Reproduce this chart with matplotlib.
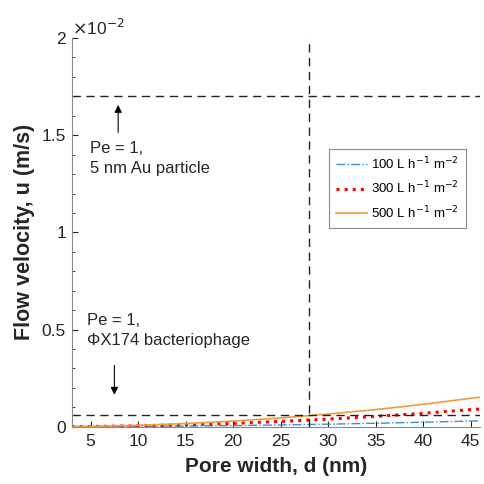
import matplotlib
matplotlib.use('Agg')
import matplotlib.pyplot as plt

plt.rcParams['font.family'] = ['Liberation Sans', 'DejaVu Sans']

# pore width (nm) and flow velocity (units of 1e-2 m/s)
pore_width = [3, 5, 10, 15, 20, 25, 30, 35, 40, 45, 46]
u_100 = [0.00013, 0.00036, 0.0014, 0.0032, 0.0058, 0.009, 0.013, 0.0176, 0.023, 0.029, 0.0305]
u_300 = [0.0004, 0.0011, 0.0043, 0.0097, 0.0173, 0.027, 0.039, 0.053, 0.069, 0.088, 0.091]
u_500 = [0.00065, 0.0018, 0.0072, 0.0162, 0.029, 0.045, 0.065, 0.088, 0.115, 0.146, 0.152]
labels = ['100 L h$^{-1}$ m$^{-2}$', '300 L h$^{-1}$ m$^{-2}$', '500 L h$^{-1}$ m$^{-2}$']

pe_au = 1.7
pe_phage = 0.06
d_cross = 28

fig = plt.figure(figsize=(4.84, 4.84), dpi=100)
ax = fig.add_axes([0.148, 0.1184, 0.844, 0.803])

ax.plot(pore_width, u_100, '-.', color='#3b8fd4', lw=1.0, label=labels[0])
ax.plot(pore_width, u_300, ':', color='#ff0000', lw=2.2, label=labels[1])
ax.plot(pore_width, u_500, '-', color='#ee9b3a', lw=1.2, label=labels[2])

ax.axhline(pe_au, color='#222222', ls=(0, (6, 4)), lw=1.0)
ax.axhline(pe_phage, color='#222222', ls=(0, (6, 4)), lw=1.0)
ax.axvline(d_cross, color='#222222', ls=(0, (6, 4)), lw=1.0)

ax.annotate('', xy=(7.9, 1.67), xytext=(7.9, 1.50),
            arrowprops=dict(arrowstyle='-|>', color='black', lw=0.8, mutation_scale=11))
ax.text(4.9, 1.47, 'Pe = 1,\n5 nm Au particle', fontsize=12, va='top', linespacing=1.45,
        color='#262626')
ax.annotate('', xy=(7.5, 0.15), xytext=(7.5, 0.33),
            arrowprops=dict(arrowstyle='-|>', color='black', lw=0.8, mutation_scale=11))
ax.text(4.6, 0.585, 'Pe = 1,\n\u03a6X174 bacteriophage', fontsize=12, va='top', linespacing=1.45,
        color='#262626')

ax.set_xlim(3, 46)
ax.set_ylim(0, 2)
ax.set_xticks([5, 10, 15, 20, 25, 30, 35, 40, 45])
ax.set_yticks([0, 0.5, 1, 1.5, 2])
ax.set_yticklabels(['0', '0.5', '1', '1.5', '2'])
ax.set_yticks([i / 10 for i in range(21)], minor=True)
ax.tick_params(direction='in', labelsize=12.5, colors='#262626', length=4)
ax.tick_params(which='minor', direction='in', length=2, colors='#262626')
ax.tick_params(axis='x', pad=5)
ax.tick_params(axis='y', pad=4)

for s in ['top', 'right']:
    ax.spines[s].set_visible(False)
for s in ['left', 'bottom']:
    ax.spines[s].set_color('#8a8a8a')
    ax.spines[s].set_linewidth(0.8)

ax.text(0.0, 1.0, '$\\times$10$^{-2}$', transform=ax.transAxes, fontsize=12.5,
        ha='left', va='bottom', color='#262626')

ax.set_xlabel('Pore width, d (nm)', fontsize=15, fontweight='bold', color='#262626', labelpad=6)
ax.set_ylabel('Flow velocity, u (m/s)', fontsize=15.5, fontweight='bold', color='#262626', labelpad=5)

leg = ax.legend(loc='upper left', bbox_to_anchor=(0.63, 0.715), fontsize=9.5,
                fancybox=False, edgecolor='#8a8a8a', framealpha=1, borderaxespad=0,
                handlelength=2.4, borderpad=0.5, labelspacing=0.6, handletextpad=0.3)
leg.get_frame().set_linewidth(0.8)

fig.savefig('out.png', dpi=100)
